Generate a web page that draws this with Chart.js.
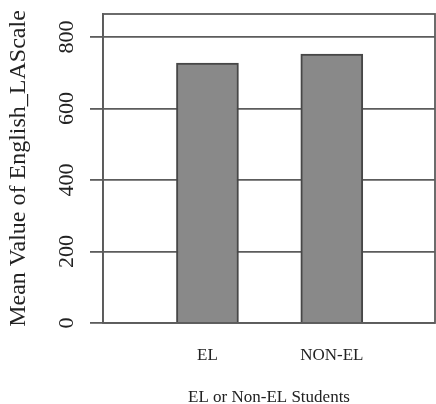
<!DOCTYPE html>
<html>
<head>
<meta charset="utf-8">
<script src="https://cdn.jsdelivr.net/npm/chart.js@4/dist/chart.umd.min.js"></script>
<style>
  body { margin: 0; background: #fff; }
</style>
</head>
<body>
<canvas id="meanChart" width="436" height="404"></canvas>
<script>
// Chart data
var categories = ['EL', 'NON-EL'];
var meanValues = [727, 752];
var yTickValues = [0, 200, 400, 600, 800];

var serif = '"Liberation Serif", "Times New Roman", serif';

// Box around the plot area (top and right sides)
var plotBox = {
    id: 'plotBox',
    beforeDatasetsDraw: function (chart) {
        var a = chart.chartArea;
        var ctx = chart.ctx;
        ctx.save();
        ctx.strokeStyle = '#5c5c5c';
        ctx.lineWidth = 1.8;
        ctx.strokeRect(a.left, a.top, a.right - a.left, a.bottom - a.top);
        ctx.restore();
    }
};

var ctx = document.getElementById('meanChart').getContext('2d');
var meanChart = new Chart(ctx, {
    type: 'bar',
    data: {
        datasets: [{
            data: meanValues.map(function (v, i) { return { x: i + 1, y: v }; }),
            backgroundColor: '#898989',
            borderColor: '#474747',
            borderWidth: 2,
            barThickness: 62
        }]
    },
    options: {
        responsive: false,
        animation: false,
        layout: { padding: { top: 14, right: 1 } },
        plugins: {
            legend: { display: false },
            tooltip: { enabled: false }
        },
        scales: {
            x: {
                type: 'linear',
                offset: false,
                min: 0.16,
                max: 2.83,
                grid: { display: false, drawTicks: false, offset: false },
                border: { display: false },
                afterBuildTicks: function (scale) {
                    scale.ticks = categories.map(function (c, i) { return { value: i + 1 }; });
                },
                afterFit: function (scale) { scale.height = 81; },
                ticks: {
                    padding: 22,
                    color: '#222',
                    font: { family: serif, size: 17 },
                    callback: function (value) { return categories[value - 1]; }
                },
                title: {
                    display: true,
                    text: 'EL or Non-EL Students',
                    color: '#222',
                    font: { family: serif, size: 17, lineHeight: 0.8 },
                    padding: { top: 0, bottom: 0 }
                }
            },
            y: {
                min: 0,
                max: 864,
                grid: { color: '#5c5c5c', lineWidth: 1.8, tickLength: 13 },
                border: { display: true, color: '#5c5c5c', width: 1.8 },
                afterBuildTicks: function (scale) {
                    scale.ticks = yTickValues.map(function (v) { return { value: v }; });
                },
                afterFit: function (scale) {
                    scale.width = 103;
                    scale.paddingTop = 0;
                    scale.paddingBottom = 0;
                },
                ticks: {
                    minRotation: 90,
                    maxRotation: 90,
                    crossAlign: 'center',
                    padding: 6,
                    color: '#222',
                    font: { family: serif, size: 22 }
                },
                title: {
                    display: true,
                    text: 'Mean Value of English_LAScale',
                    color: '#222',
                    font: { family: serif, size: 24 },
                    padding: { top: 4, bottom: 0 }
                }
            }
        }
    },
    plugins: [plotBox]
});
</script>
</body>
</html>
